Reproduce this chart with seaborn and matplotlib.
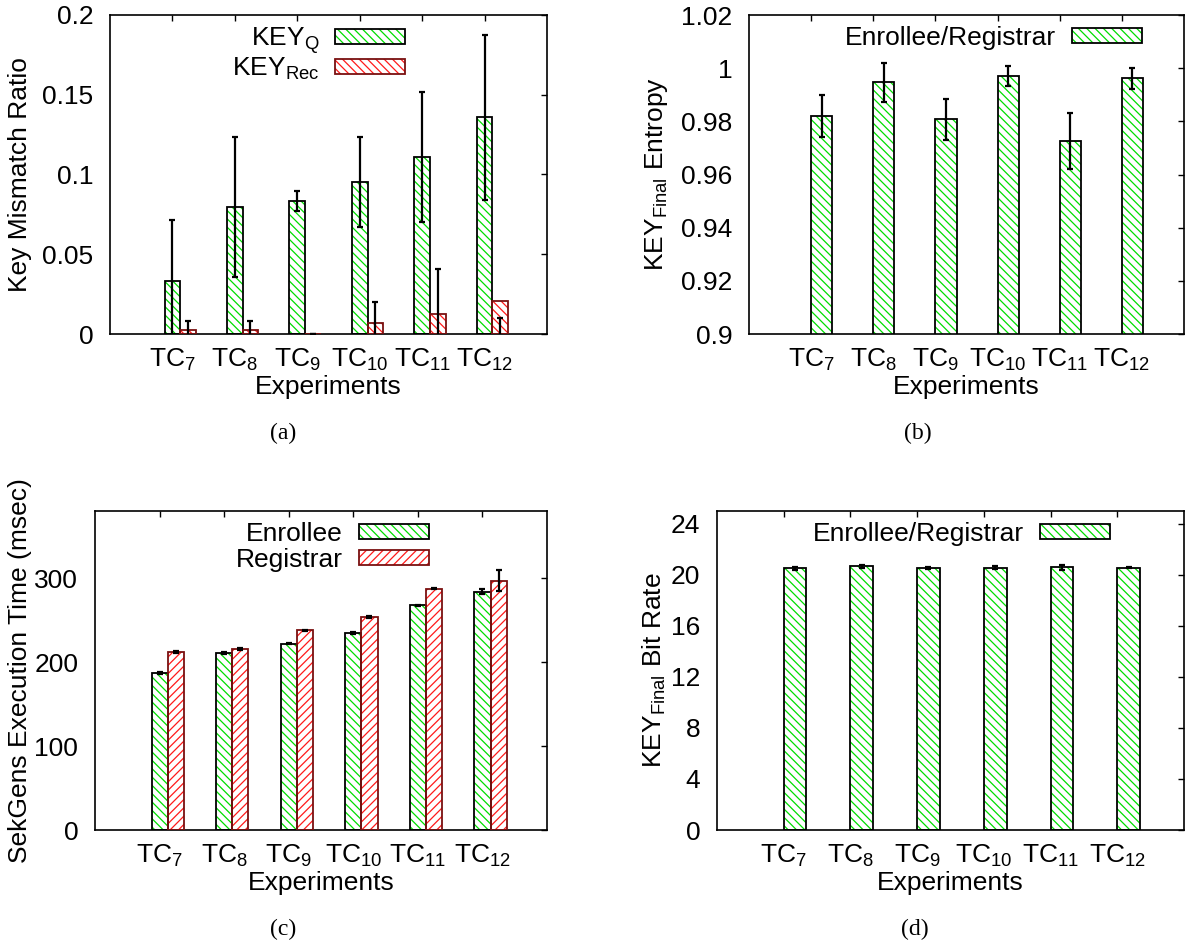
'''
Four-panel bar chart: key mismatch, entropy, execution time, bit rate.
gnuplot-style hatched bars, redone with seaborn.
'''

# imports
import numpy as np
import pandas as pd
import seaborn as sns
import matplotlib.pyplot as plt
from matplotlib.patches import Patch, Rectangle
from matplotlib.container import BarContainer
from matplotlib.legend_handler import HandlerTuple
from matplotlib.ticker import FormatStrFormatter

## data
experiments = ['TC7', 'TC8', 'TC9', 'TC10', 'TC11', 'TC12']
tick_labels = ['TC$_{7}$', 'TC$_{8}$', 'TC$_{9}$', 'TC$_{10}$', 'TC$_{11}$', 'TC$_{12}$']

# (a) key mismatch ratio
keyq_mean = [0.033, 0.0797, 0.0834, 0.0954, 0.1108, 0.1359]
keyq_lo = [-0.005, 0.0359, 0.0771, 0.0673, 0.0702, 0.0840]
keyq_hi = [0.0715, 0.1235, 0.0897, 0.1235, 0.1517, 0.1877]
keyrec_mean = [0.0025, 0.0025, 0.0, 0.0067, 0.0125, 0.0209]
keyrec_lo = [-0.003, -0.003, 0.0, -0.007, -0.016, -0.005]
keyrec_hi = [0.0081, 0.0081, 0.0, 0.0203, 0.0410, 0.0102]

# (b) final key entropy
entropy_mean = [0.9821, 0.9947, 0.9808, 0.9972, 0.9727, 0.9962]
entropy_lo = [0.9742, 0.9872, 0.9730, 0.9934, 0.9620, 0.9922]
entropy_hi = [0.9899, 1.0019, 0.9883, 1.0008, 0.9833, 1.0001]

# (c) execution time (msec)
enrollee_time = [186.9, 210.7, 221.8, 234.5, 267.5, 284.1]
enrollee_err = [0.8, 0.8, 0.5, 0.8, 0.8, 3.3]
registrar_time = [212.3, 215.5, 238.1, 254.0, 287.3, 297.2]
registrar_err = [1.2, 0.8, 0.5, 1.2, 0.8, 12.3]

# (d) final key bit rate
bitrate_mean = [20.50, 20.66, 20.52, 20.55, 20.58, 20.56]
bitrate_err = [0.10, 0.10, 0.06, 0.12, 0.18, 0.06]

## plot setup
sns.set_style('white')
plt.rcParams['font.family'] = ['Liberation Sans', 'DejaVu Sans']
plt.rcParams['mathtext.fontset'] = 'custom'
plt.rcParams['mathtext.rm'] = 'Liberation Sans'
plt.rcParams['mathtext.it'] = 'Liberation Sans'
plt.rcParams['mathtext.bf'] = 'Liberation Sans'
plt.rcParams['hatch.linewidth'] = 0.9
plt.rcParams['text.color'] = 'black'
plt.rcParams['axes.labelcolor'] = 'black'

green = '#00dd00'
red = '#ff1a1a'
dark_red = '#7a1010'
fs = 19

W, H = 1186, 947
fig = plt.figure(figsize=(W / 100, H / 100), dpi=100)


def px_rect(left, top, right, bottom):
    return [left / W, 1 - bottom / H, (right - left) / W, (bottom - top) / H]


def draw_bars(ax, series, names, hatches, edges, lows, highs, width, tick_at_edge):
    '''
    series: <list> of value lists, one per bar group member
    lows/highs: <list> of error bar ends
    '''
    rows = []
    for name, vals in zip(names, series):
        for e, v in zip(experiments, vals):
            rows.append({'exp': e, 'series': name, 'value': v})
    df = pd.DataFrame(rows)

    if len(series) > 1:
        sns.barplot(data=df, x='exp', y='value', hue='series',
                    palette={n: 'white' for n in names}, width=width,
                    errorbar=None, legend=False, saturation=1, ax=ax)
    else:
        sns.barplot(data=df, x='exp', y='value', color='white', width=width,
                    errorbar=None, saturation=1, ax=ax)

    bar_conts = [c for c in ax.containers if isinstance(c, BarContainer)]
    for k, cont in enumerate(bar_conts):
        xs = []
        for p in cont.patches:
            p.set_hatch(hatches[k])
            p.set_edgecolor(green if k == 0 else red)
            p.set_linewidth(0)
            ax.add_patch(Rectangle((p.get_x(), p.get_y()), p.get_width(), p.get_height(),
                                   fill=False, ec=edges[k], lw=1.3, zorder=3))
            xs.append(p.get_x() + p.get_width() / 2)
        lo = np.array(lows[k])
        hi = np.array(highs[k])
        ax.errorbar(xs, (lo + hi) / 2, yerr=(hi - lo) / 2, fmt='none', ecolor='black',
                    elinewidth=1.6, capsize=2.0, capthick=1.6, zorder=5)

    first = bar_conts[0].patches
    if tick_at_edge:
        ticks = [p.get_x() for p in first]
    else:
        ticks = [p.get_x() + p.get_width() / 2 for p in first]
    ax.set_xticks(ticks, tick_labels)
    ax.set_xlim(ticks[0] - 1, ticks[0] + 6)


def style_axes(ax, ylabel, ylabelpad):
    ax.set_xlabel('Experiments', fontsize=fs, labelpad=2)
    ax.set_ylabel(ylabel, fontsize=fs, labelpad=ylabelpad)
    ax.tick_params(direction='in', length=4.5, width=1, top=True, right=True,
                   labelsize=fs, colors='black')
    ax.tick_params(axis='y', pad=12)
    ax.tick_params(axis='x', pad=9)
    ax.yaxis.set_major_formatter(FormatStrFormatter('%g'))
    for s in ax.spines.values():
        s.set_color('black')
        s.set_linewidth(1.2)


def add_legend(ax, names, hatches, edges, anchor_x, spacing=0.1):
    handles = []
    for k, n in enumerate(names):
        hatch_patch = Patch(facecolor='white', edgecolor=green if k == 0 else red,
                            hatch=hatches[k], lw=0)
        frame_patch = Patch(facecolor='none', edgecolor=edges[k], lw=1.3)
        handles.append((hatch_patch, frame_patch))
    ax.legend(handles, names, loc='upper center', bbox_to_anchor=(anchor_x, 1.0),
              markerfirst=False, frameon=False, fontsize=fs, handlelength=2.65,
              handleheight=0.5, handletextpad=0.6, labelspacing=spacing,
              borderaxespad=0.3, borderpad=0.1,
              handler_map={tuple: HandlerTuple(ndivide=1)})


''' (a) key mismatch ratio '''
ax_a = fig.add_axes(px_rect(110, 15, 547, 334))
draw_bars(ax_a, [keyq_mean, keyrec_mean], ['KEY$_{Q}$', 'KEY$_{Rec}$'],
          ['\\\\\\\\', '\\\\\\\\'], ['black', dark_red],
          [keyq_lo, keyrec_lo], [keyq_hi, keyrec_hi], 0.5, False)
ax_a.set_ylim(0, 0.2)
ax_a.set_yticks(np.linspace(0, 0.2, 5))
style_axes(ax_a, 'Key Mismatch Ratio', 7.5)
add_legend(ax_a, ['KEY$_{Q}$', 'KEY$_{Rec}$'], ['\\\\\\\\', '\\\\\\\\'], ['black', dark_red],
           0.477, spacing=-0.03)

''' (b) entropy '''
ax_b = fig.add_axes(px_rect(749, 15, 1184, 334))
draw_bars(ax_b, [entropy_mean], ['Enrollee/Registrar'], ['\\\\\\\\'], ['black'],
          [entropy_lo], [entropy_hi], 0.34, True)
ax_b.set_ylim(0.9, 1.02)
ax_b.set_yticks(np.linspace(0.9, 1.02, 7))
style_axes(ax_b, 'KEY$_{Final}$ Entropy', 8)
add_legend(ax_b, ['Enrollee/Registrar'], ['\\\\\\\\'], ['black'], 0.562)

''' (c) execution time '''
ax_c = fig.add_axes(px_rect(95, 511, 547, 830))
enr_lo = [m - e for m, e in zip(enrollee_time, enrollee_err)]
enr_hi = [m + e for m, e in zip(enrollee_time, enrollee_err)]
reg_lo = [m - e for m, e in zip(registrar_time, registrar_err)]
reg_hi = [m + e for m, e in zip(registrar_time, registrar_err)]
draw_bars(ax_c, [enrollee_time, registrar_time], ['Enrollee', 'Registrar'],
          ['\\\\\\\\', '////'], ['black', dark_red],
          [enr_lo, reg_lo], [enr_hi, reg_hi], 0.5, False)
ax_c.set_ylim(0, 380)
ax_c.set_yticks([0, 100, 200, 300])
style_axes(ax_c, 'SekGens Execution Time (msec)', 2)
add_legend(ax_c, ['Enrollee', 'Registrar'], ['\\\\\\\\', '////'], ['black', dark_red], 0.525)

''' (d) bit rate '''
ax_d = fig.add_axes(px_rect(717, 511, 1184, 830))
br_lo = [m - e for m, e in zip(bitrate_mean, bitrate_err)]
br_hi = [m + e for m, e in zip(bitrate_mean, bitrate_err)]
draw_bars(ax_d, [bitrate_mean], ['Enrollee/Registrar'], ['\\\\\\\\'], ['black'],
          [br_lo], [br_hi], 0.34, True)
ax_d.set_ylim(0, 25)
ax_d.set_yticks(np.arange(0, 25, 4))
style_axes(ax_d, 'KEY$_{Final}$ Bit Rate', 2)
add_legend(ax_d, ['Enrollee/Registrar'], ['\\\\\\\\'], ['black'], 0.524)

## sub-captions
for txt, x, y in [('(a)', 283, 433), ('(b)', 918, 433), ('(c)', 283, 929), ('(d)', 915, 929)]:
    fig.text(x / W, 1 - y / H, txt, family='Liberation Serif', size=17, ha='center', va='center')

fig.savefig('out.png', dpi=100)
